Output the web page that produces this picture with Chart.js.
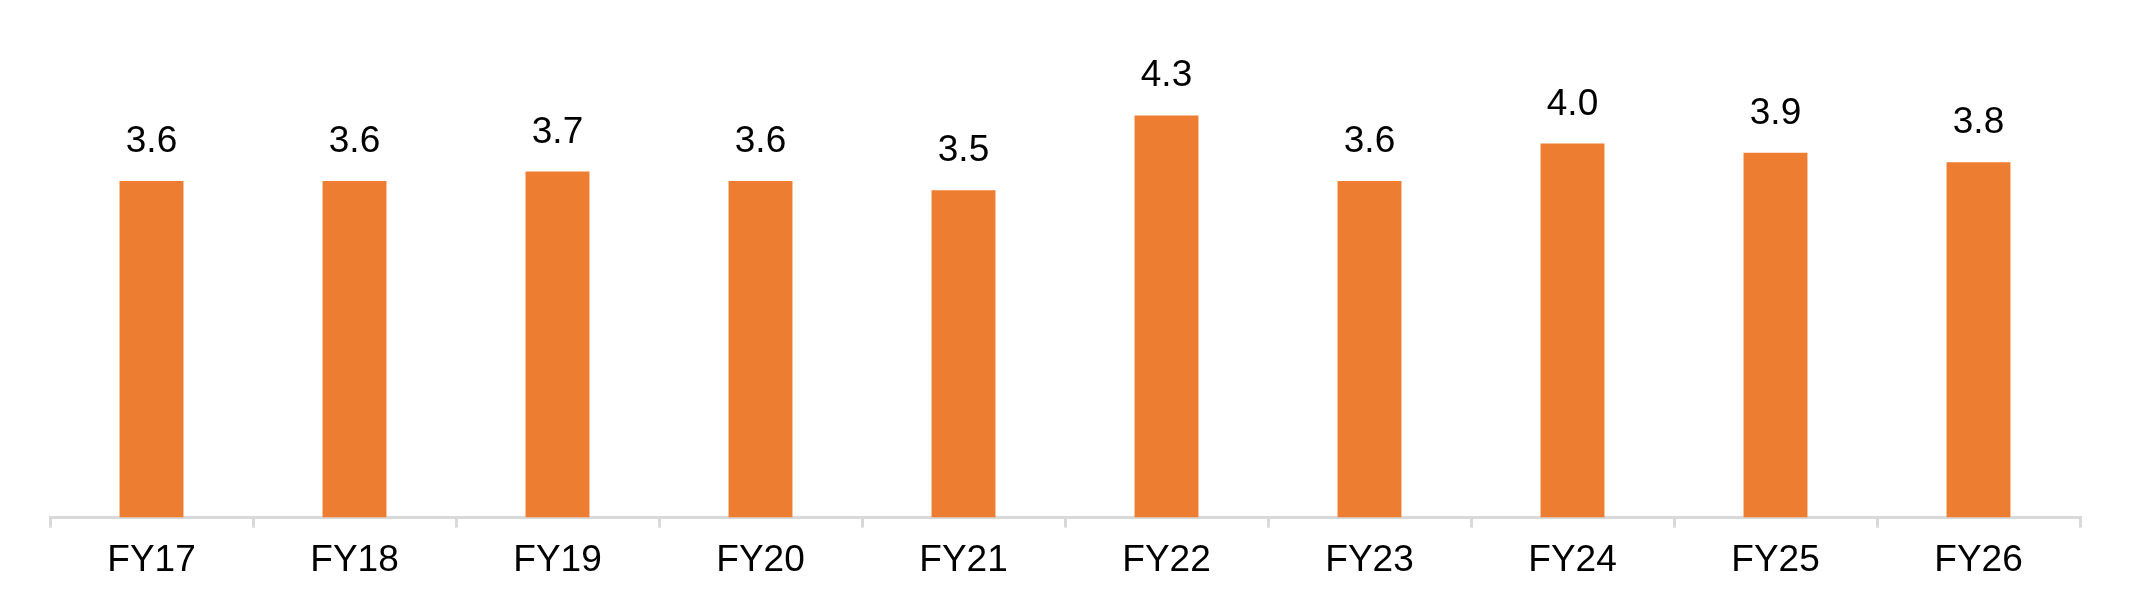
<!DOCTYPE html>
<html>
<head>
<meta charset="utf-8">
<script src="https://cdn.jsdelivr.net/npm/chart.js@4"></script>
<style>
  html, body { margin: 0; padding: 0; background: #fff; }
  #wrap { width: 2131px; height: 612px; }
</style>
</head>
<body>
<div id="wrap"><canvas id="myChart" width="2131" height="612"></canvas></div>
<script>
const labels = ['FY17', 'FY18', 'FY19', 'FY20', 'FY21', 'FY22', 'FY23', 'FY24', 'FY25', 'FY26'];
const values = [3.6, 3.6, 3.7, 3.6, 3.5, 4.3, 3.6, 4.0, 3.9, 3.8];

const barColor = '#ED7D31';
const axisColor = '#d9d9d9';
const fontFamily = '"Liberation Sans", Arial, sans-serif';

// draws the value above each bar (no datalabels plugin available)
const valueLabels = {
    id: 'valueLabels',
    afterDatasetsDraw(chart) {
        const ctx = chart.ctx;
        const meta = chart.getDatasetMeta(0);
        ctx.save();
        ctx.font = '37px ' + fontFamily;
        ctx.fillStyle = '#000';
        ctx.textAlign = 'center';
        ctx.textBaseline = 'alphabetic';
        meta.data.forEach((bar, i) => {
            ctx.fillText(values[i].toFixed(1), bar.x, bar.y - 29);
        });
        ctx.restore();
    }
};

const myChart = new Chart(document.getElementById('myChart'), {
    type: 'bar',
    data: {
        labels: labels,
        datasets: [{
            data: values,
            backgroundColor: barColor,
            categoryPercentage: 1,
            barPercentage: 0.315
        }]
    },
    options: {
        responsive: false,
        animation: false,
        devicePixelRatio: 1,
        layout: { padding: { top: 50, left: 50, right: 51, bottom: 18 } },
        plugins: { legend: { display: false }, tooltip: { enabled: false } },
        scales: {
            y: { display: false, min: 0, max: 5 },
            x: {
                border: { display: true, color: axisColor, width: 3 },
                grid: { offset: true, drawOnChartArea: false, tickLength: 10, color: axisColor, lineWidth: 3 },
                ticks: { color: '#000', padding: 11, font: { size: 37, family: fontFamily } }
            }
        }
    },
    plugins: [valueLabels]
});
</script>
</body>
</html>
